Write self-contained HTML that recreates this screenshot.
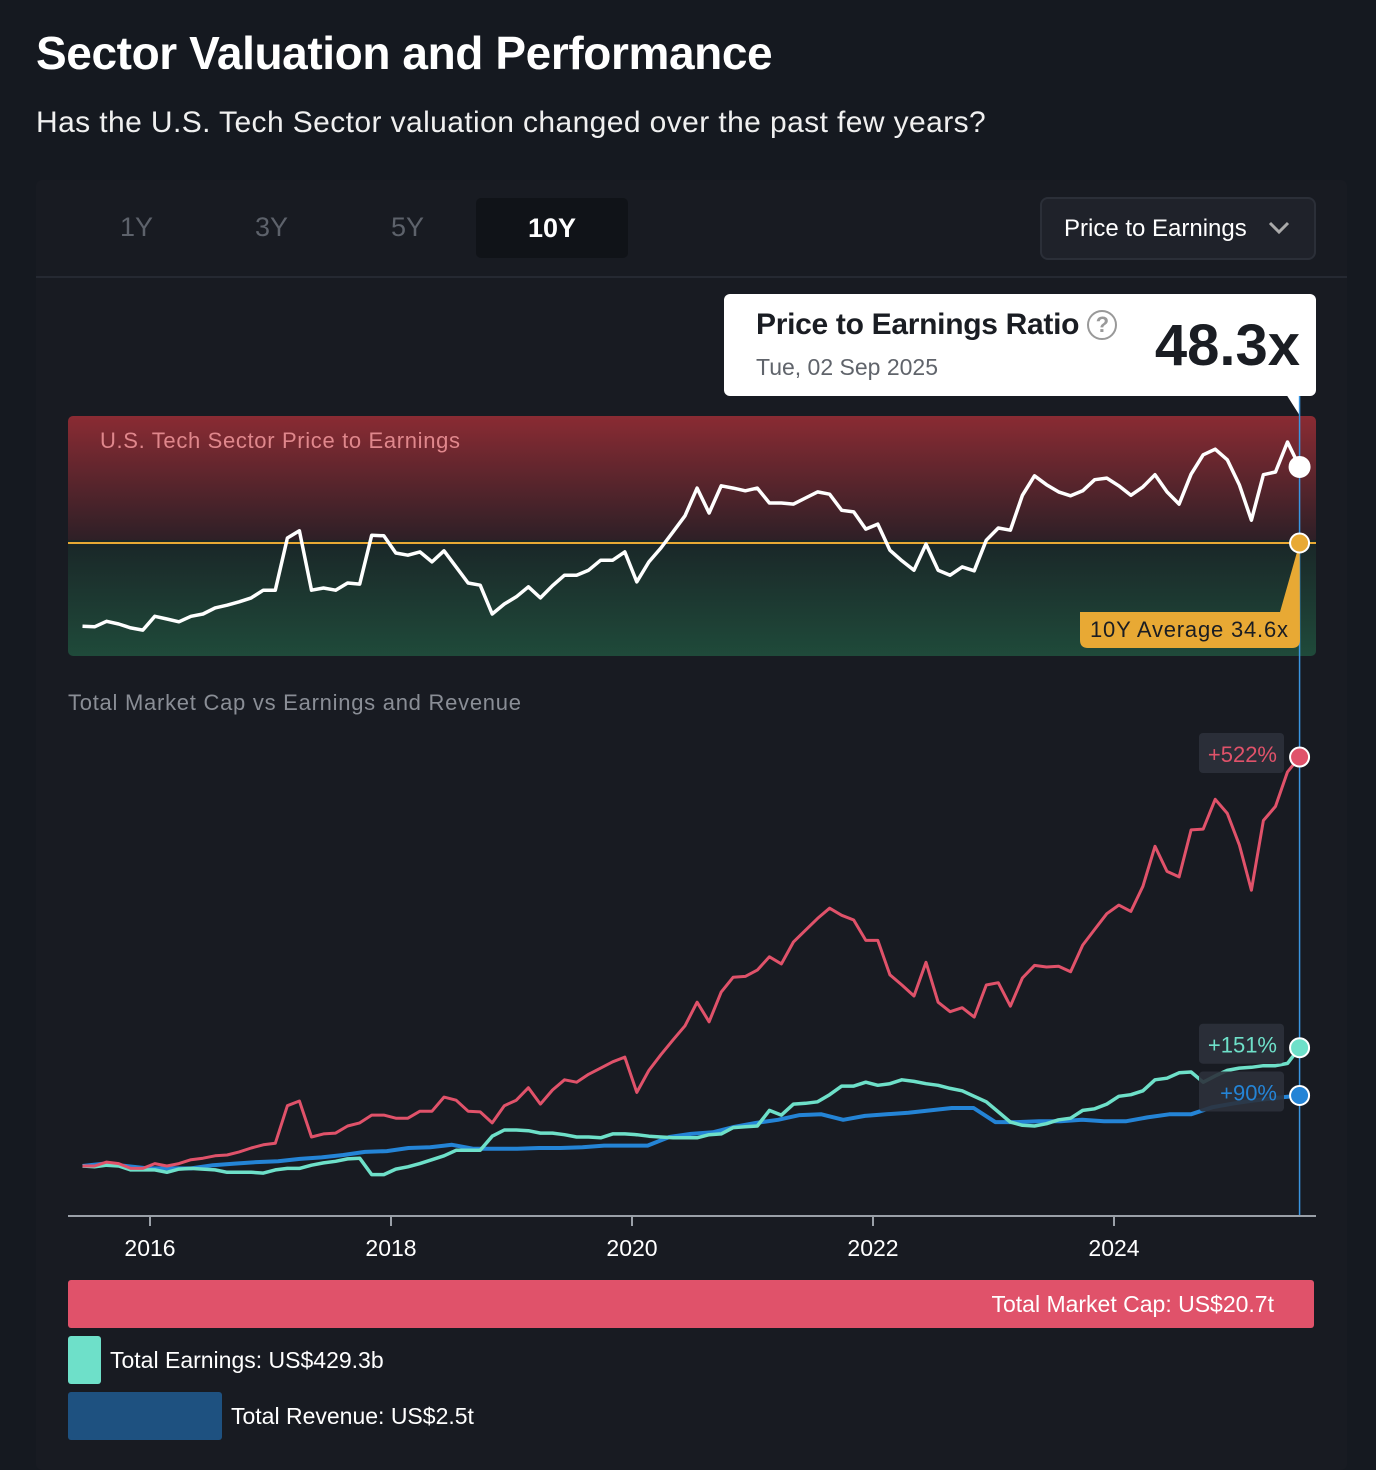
<!DOCTYPE html>
<html><head><meta charset="utf-8"><style>
*{margin:0;padding:0;box-sizing:border-box}
body{width:1376px;height:1458px;background:#151920;font-family:"Liberation Sans",sans-serif;color:#fff;position:relative;overflow:hidden}
.a{position:absolute}
</style></head><body>
<div class="a" style="left:36px;top:26px;font-size:46px;font-weight:bold;letter-spacing:-0.4px">Sector Valuation and Performance</div>
<div class="a" style="left:36px;top:106px;font-size:30px;color:#f0f0f0;letter-spacing:0.4px">Has the U.S. Tech Sector valuation changed over the past few years?</div>
<div class="a" style="left:36px;top:180px;width:1311px;height:1290px;background:#181b22;border-radius:6px"></div>
<div class="a" style="left:36px;top:276px;width:1311px;height:2px;background:#252932"></div>
<div class="a" style="left:120px;top:212px;font-size:27px;color:#5d626b">1Y</div>
<div class="a" style="left:255px;top:212px;font-size:27px;color:#5d626b">3Y</div>
<div class="a" style="left:391px;top:212px;font-size:27px;color:#5d626b">5Y</div>
<div class="a" style="left:476px;top:198px;width:152px;height:60px;background:#101318;border-radius:5px;font-size:27px;font-weight:bold;text-align:center;line-height:60px">10Y</div>
<div class="a" style="left:1040px;top:197px;width:276px;height:63px;background:#1f222a;border:2px solid #2b2f38;border-radius:8px;font-size:24px;line-height:59px;padding-left:22px">Price to Earnings<svg style="position:absolute;left:226px;top:22px" width="22" height="14"><path d="M2 2 L11 11 L20 2" stroke="#aaa" stroke-width="3" fill="none"/></svg></div>
<div class="a" style="left:724px;top:294px;width:592px;height:102px;background:#fff;border-radius:6px;color:#1a1d23">
<div class="a" style="left:32px;top:14px;font-size:30px;font-weight:bold;white-space:nowrap;letter-spacing:-0.3px">Price to Earnings Ratio <span style="display:inline-block;width:30px;height:30px;border:2px solid #999;border-radius:50%;color:#999;font-size:22px;text-align:center;line-height:26px;vertical-align:2px">?</span></div>
<div class="a" style="left:32px;top:60px;font-size:23px;color:#60646b">Tue, 02 Sep 2025</div>
<div class="a" style="right:16px;top:18px;font-size:58px;font-weight:bold">48.3x</div>
</div>
<svg class="a" style="left:0;top:0" width="1376" height="1458" id="chart">
<defs>
<linearGradient id="gr" x1="0" y1="0" x2="0" y2="1"><stop offset="0" stop-color="#8a2b33"/><stop offset="1" stop-color="#2b1f26"/></linearGradient>
<linearGradient id="gg" x1="0" y1="0" x2="0" y2="1"><stop offset="0" stop-color="#1a2728"/><stop offset="1" stop-color="#1f4a3a"/></linearGradient>
</defs>
<path d="M1286 394 L1300 416 L1300 394Z" fill="#fff"/>
<rect x="68" y="416" width="1248" height="128" rx="5" fill="url(#gr)"/>
<rect x="68" y="543" width="1248" height="113" rx="5" fill="url(#gg)"/>
<rect x="68" y="540" width="1248" height="8" fill="#1a2728"/>
<text x="100" y="448" font-size="22" fill="#e0878c" font-family="Liberation Sans" textLength="360">U.S. Tech Sector Price to Earnings</text>
<text x="68" y="710" font-size="22" fill="#8a8e96" font-family="Liberation Sans" textLength="453">Total Market Cap vs Earnings and Revenue</text>
<g id="g"></g>
</svg>
<div class="a" style="left:68px;top:1280px;width:1246px;height:48px;background:#e0526a;border-radius:3px;font-size:23px;text-align:right;line-height:48px;padding-right:40px">Total Market Cap: US$20.7t</div>
<div class="a" style="left:68px;top:1336px;width:33px;height:48px;background:#6ee0c9;border-radius:3px"></div>
<div class="a" style="left:110px;top:1347px;font-size:23px">Total Earnings: US$429.3b</div>
<div class="a" style="left:68px;top:1392px;width:154px;height:48px;background:#1e5180;border-radius:3px"></div>
<div class="a" style="left:231px;top:1403px;font-size:23px">Total Revenue: US$2.5t</div>
<script>
const peValues=[19.6,19.5,20.5,20.0,19.3,18.9,21.4,20.9,20.4,21.4,21.8,22.9,23.4,24.0,24.7,26.1,26.1,35.5,36.8,26.1,26.5,26.1,27.4,27.2,36.0,35.9,32.8,32.4,33.0,31.2,33.2,30.3,27.4,27.0,21.8,23.6,24.9,26.7,24.7,26.9,28.8,28.8,29.7,31.5,31.5,33.0,27.6,31.2,33.7,36.6,39.5,44.5,40.0,44.9,44.5,44.0,44.5,41.8,41.8,41.6,42.7,43.8,43.4,40.5,40.2,37.1,38.0,33.3,31.4,29.7,34.4,29.7,28.8,30.3,29.6,35.1,37.3,36.9,43.2,46.7,45.1,43.8,43.1,44.0,46.0,46.3,44.9,43.2,44.7,46.9,43.8,41.6,47.0,50.5,51.5,49.6,45.1,38.7,46.9,47.4,52.8,48.3];
const peAverage=34.6;
const marketCapPct=[0,0,5,3,-3,-3,3,0,3,8,10,13,14,18,23,27,29,77,83,37,41,42,51,55,65,65,61,61,70,70,88,84,70,69,55,77,84,100,79,97,110,107,117,125,133,139,94,122,142,161,179,209,184,222,241,242,250,267,258,286,301,316,329,320,314,288,288,244,231,217,260,209,197,202,190,231,234,204,240,256,254,255,248,282,302,322,333,325,357,408,376,369,429,430,468,450,410,352,441,459,503,522];
const earningsPct=[0,-1,1,0,-5,-5,-5,-8,-4,-3,-4,-5,-8,-8,-8,-9,-5,-3,-3,1,4,6,9,10,-11,-11,-4,-1,3,8,13,20,20,20,38,46,46,45,42,42,40,37,37,36,41,41,40,38,37,36,36,36,40,41,49,50,51,71,65,79,80,82,91,102,102,107,103,105,110,108,105,103,99,96,89,82,69,56,52,51,54,59,61,71,73,79,89,91,96,110,112,119,120,107,115,122,125,126,128,128,131,151];
const revenuePct=[0,3,0,-3,-3,-3,1,3,5,6,9,11,14,18,19,23,24,27,22,22,22,23,23,24,26,26,26,37,41,43,50,55,59,65,66,59,64,66,68,71,74,74,56,56,57,57,59,57,57,62,66,66,75,80,84,87,90];
const tickYears=[2016,2018,2020,2022,2024];
const startYear=2015.44,endYear=2025.54;
const NS='http://www.w3.org/2000/svg';
const g=document.getElementById('g');
const xYear=y=>150+(y-2016)*120.5;
const yPE=v=>543-(v-peAverage)*5.55;
const yPct=p=>1166-p*0.7835;
function xIdx(i,n){return xYear(startYear+(endYear-startYear)*i/(n-1));}
function mk(tag,attrs){const e=document.createElementNS(NS,tag);for(const k in attrs)e.setAttribute(k,attrs[k]);g.appendChild(e);return e;}
function line(arr,yf,color,w,name){
  const d=arr.map((v,i)=>(i?'L':'M')+xIdx(i,arr.length).toFixed(1)+' '+yf(v).toFixed(1)).join(' ');
  const p=mk('path',{d:d,stroke:color,'stroke-width':w,fill:'none','stroke-linejoin':'round'});
  
  
}
const av=mk('line',{x1:68,x2:1316,y1:yPE(peAverage),y2:yPE(peAverage),stroke:'#e8a934','stroke-width':2});


line(peValues,yPE,'#fff',3.5,'pe-line');
const xl=xIdx(1,2);
const ch=mk('line',{x1:xl,x2:xl,y1:396,y2:1216,stroke:'#3a95e0','stroke-width':1.5});


const bp=mk('path',{d:`M1080 612 L1280 612 L${xl} ${yPE(peAverage)} L1300 640 Q1300 648 1292 648 L1088 648 Q1080 648 1080 640 Z`,fill:'#e8a934'});


const bt=mk('text',{x:1090,y:637,'font-size':22,fill:'#1a1d23','font-family':'Liberation Sans',textLength:198});bt.textContent='10Y Average 34.6x';


const d1=mk('circle',{cx:xl,cy:yPE(peValues[peValues.length-1]),r:10,fill:'#fff',stroke:'#fff','stroke-width':2});


const d2=mk('circle',{cx:xl,cy:yPE(peAverage),r:9.5,fill:'#e8a934',stroke:'#fff','stroke-width':2});


line(revenuePct,yPct,'#2484d6',4,'revenue-line');
line(earningsPct,yPct,'#6ee0c9',3.5,'earnings-line');
line(marketCapPct,yPct,'#e0526a',3,'market-cap-line');
const series=[[marketCapPct,'#e0526a','market-cap'],[earningsPct,'#6ee0c9','earnings'],[revenuePct,'#2484d6','revenue']];
series.forEach(([arr,c,n])=>{
  const v=arr[arr.length-1],y=yPct(v);
  const r=mk('rect',{x:1199,y:y-24,width:85,height:40,rx:4,fill:'#2c313b','fill-opacity':0.9});
  
  
  const t=mk('text',{x:1277,y:y+5,'text-anchor':'end','font-size':22,fill:c,'font-family':'Liberation Sans'});t.textContent='+'+v+'%';
  
  
  const dt=mk('circle',{cx:xl,cy:y,r:9.5,fill:c,stroke:'#fff','stroke-width':2});
  
  
});
const ax=mk('line',{x1:68,x2:1316,y1:1216,y2:1216,stroke:'#9aa0a8','stroke-width':2});


tickYears.forEach(yr=>{
  const x=xYear(yr);
  const tk=mk('line',{x1:x,x2:x,y1:1216,y2:1226,stroke:'#9aa0a8','stroke-width':2});
  
  
  const t=mk('text',{x:x,y:1256,'text-anchor':'middle','font-size':23,fill:'#fff','font-family':'Liberation Sans'});t.textContent=yr;
  
  
});
</script>
</body></html>
